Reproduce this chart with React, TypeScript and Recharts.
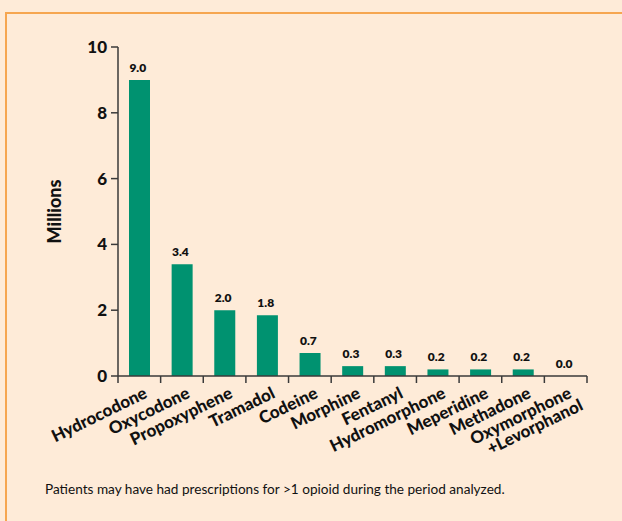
import React from 'react';
import { ComposedChart, Bar, Line, XAxis, YAxis, LabelList, Label } from 'recharts';

const drugs = [
  'Hydrocodone',
  'Oxycodone',
  'Propoxyphene',
  'Tramadol',
  'Codeine',
  'Morphine',
  'Fentanyl',
  'Hydromorphone',
  'Meperidine',
  'Methadone',
  'Oxymorphone\n+Levorphanol',
];
const patients = [9.0, 3.4, 2.0, 1.85, 0.7, 0.3, 0.3, 0.2, 0.2, 0.2, 0.0];
const valueLabels = ['9.0', '3.4', '2.0', '1.8', '0.7', '0.3', '0.3', '0.2', '0.2', '0.2', '0.0'];
const yTicks = [0, 2, 4, 6, 8, 10];

const data = drugs.map((name, i) => ({ name, value: patients[i], label: valueLabels[i] }));

const BG = '#FEEBD8';
const ORANGE = '#F6A650';
const GREEN = '#009270';
const AXIS = '#3a3a3a';
const FONT = 'Lato, "Open Sans", sans-serif';

const W = 622;
const H = 521;
const M = { top: 47, right: 35, left: 78, bottom: 45 };
const PLOT_LEFT = 118;
const BAND = (W - M.right - PLOT_LEFT) / drugs.length;

const XTick = (props: any) => {
  const { x, y, payload, index } = props;
  const lines = String(payload.value).split('\n');
  const axisY = y - 8;
  const left = x - BAND / 2;
  return (
    <g>
      <line x1={left} y1={axisY} x2={left} y2={axisY + 7} stroke={AXIS} strokeWidth={1.5} />
      {index === drugs.length - 1 && (
        <line x1={left + BAND} y1={axisY} x2={left + BAND} y2={axisY + 7} stroke={AXIS} strokeWidth={1.5} />
      )}
      <g transform={`translate(${x + (lines.length > 1 ? 7 : 9)},${axisY + 21}) rotate(-26)`}>
        {lines.map((l, i) => (
          <text
            key={i}
            x={i * 5}
            y={i * 16}
            textAnchor="end"
            fontFamily={FONT}
            fontWeight={900}
            fontSize={17}
            fill="#111"
          >
            {l}
          </text>
        ))}
      </g>
    </g>
  );
};

const YTick = (props: any) => {
  const { x, y, payload } = props;
  return (
    <text x={x - 2} y={y + 6} textAnchor="end" fontFamily={FONT} fontWeight={900} fontSize={17} fill="#111">
      {payload.value}
    </text>
  );
};

const ValueLabel = (props: any) => {
  const { x, y, value } = props;
  return (
    <text x={x - 1.5} y={y - 8} textAnchor="middle" fontFamily={FONT} fontWeight={800} fontSize={12} fill="#111">
      {value}
    </text>
  );
};

const App: React.FC = () => {
  return (
    <div style={{ position: 'absolute', left: 0, top: 0, width: W, height: H, background: BG, overflow: 'hidden' }}>
      <div style={{ position: 'absolute', left: 5, top: 12, width: W - 5, height: 2, background: ORANGE }} />
      <div style={{ position: 'absolute', left: 5, top: 12, width: 2, height: H - 12, background: ORANGE }} />
      <div style={{ position: 'absolute', left: 0, top: 0 }}>
        <ComposedChart width={W} height={H} data={data} margin={M} barSize={21}>
          <XAxis
            dataKey="name"
            interval={0}
            height={100}
            tickLine={false}
            axisLine={{ stroke: AXIS, strokeWidth: 1.5 }}
            tick={<XTick />}
          />
          <YAxis
            width={40}
            domain={[0, 10]}
            ticks={yTicks}
            tickSize={7}
            tickLine={{ stroke: AXIS, strokeWidth: 1.5 }}
            axisLine={{ stroke: AXIS, strokeWidth: 1.5 }}
            tick={<YTick />}
          >
            <Label
              content={(p: any) => {
                const vb = p.viewBox;
                const cx = 54;
                const cy = vb.y + vb.height / 2;
                return (
                  <text
                    x={cx}
                    y={cy}
                    transform={`rotate(-90 ${cx} ${cy})`}
                    textAnchor="middle"
                    dominantBaseline="central"
                    fontFamily={FONT}
                    fontWeight={900}
                    fontSize={18}
                    fill="#111"
                  >
                    Millions
                  </text>
                );
              }}
            />
          </YAxis>
          <Bar dataKey="value" fill={GREEN} isAnimationActive={false} />
          <Line
            dataKey="value"
            stroke="none"
            dot={false}
            activeDot={false}
            legendType="none"
            isAnimationActive={false}
          >
            <LabelList dataKey="label" content={<ValueLabel />} />
          </Line>
        </ComposedChart>
      </div>
      <div
        style={{
          position: 'absolute',
          left: 45,
          top: 481,
          fontFamily: FONT,
          fontSize: 13.6,
          color: '#111',
          whiteSpace: 'nowrap',
        }}
      >
        Patients may have had prescriptions for &gt;1 opioid during the period analyzed.
      </div>
    </div>
  );
};

export default App;
